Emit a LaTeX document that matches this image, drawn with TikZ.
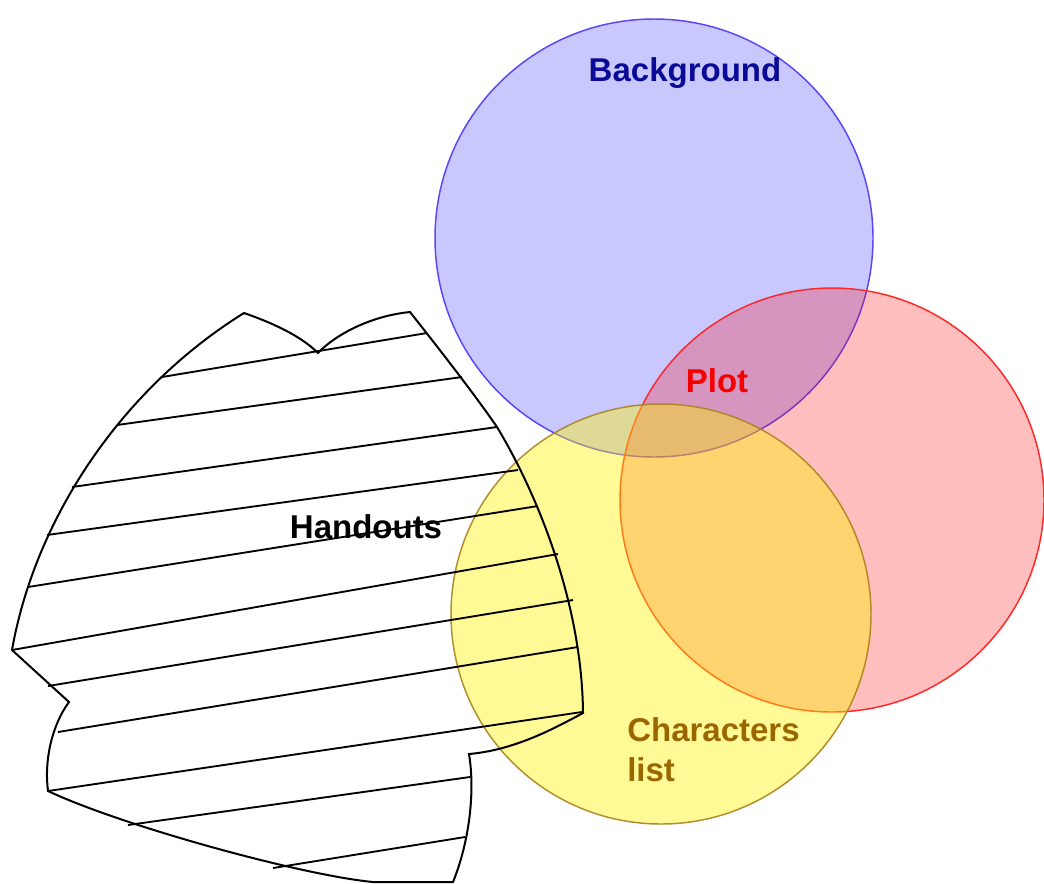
\documentclass[tikz,border=0pt]{standalone}
\usepackage{fontspec}
\setmainfont{Liberation Sans}
\definecolor{bgedge}{RGB}{90,70,250}
\definecolor{plotedge}{RGB}{255,40,40}
\definecolor{charedge}{RGB}{170,130,30}
\definecolor{bgtext}{RGB}{10,10,150}
\definecolor{plottext}{RGB}{245,0,0}
\definecolor{chartext}{RGB}{153,102,0}
\tikzset{
  setcircle/.style={circle, inner sep=0pt, line width=1.1pt},
  lbl/.style={font=\fontsize{24.75}{30}\selectfont\bfseries, inner sep=0pt},
  hatch/.style={line width=1.4pt, black},
}
\begin{document}
\begin{tikzpicture}[x=0.75pt,y=-0.75pt]
\useasboundingbox (0,0) rectangle (1044,883);
\fill[white] (0,0) rectangle (1044,883);
% sets
\node[setcircle, minimum size=328.5pt, fill=blue, fill opacity=0.215, draw=bgedge] (background) at (654,238) {};
\node[setcircle, minimum size=318pt, fill=red, fill opacity=0.255, draw=plotedge] (plot) at (832,500) {};
\node[setcircle, minimum size=315pt, fill=yellow, fill opacity=0.41, draw=charedge, draw opacity=0.9] (characters) at (661,614) {};
% handouts shape
\draw[line width=1.5pt, line join=miter]
  (244,313) .. controls (270,322) and (300,335) .. (318,353)
  .. controls (335,335) and (370,316) .. (410,312)
  .. controls (440,350) and (475,395) .. (497,427)
  .. controls (535,490) and (582,600) .. (583,713)
  .. controls (555,728) and (515,750) .. (469,754)
  .. controls (475,790) and (470,840) .. (453,882)
  -- (373,882)
  .. controls (300,875) and (120,825) .. (48,791)
  .. controls (44,760) and (52,725) .. (69,702)
  -- (12,650)
  .. controls (35,520) and (120,390) .. (244,313) -- cycle;
% hatch lines
\draw[hatch] (162,377) -- (427,333);
\draw[hatch] (117,425) -- (462,377);
\draw[hatch] (72,487) -- (497,427);
\draw[hatch] (47,535) -- (518,470);
\draw[hatch] (28,587) -- (538,506);
\draw[hatch] (12,650) -- (558,554);
\draw[hatch] (48,686) -- (573,600);
\draw[hatch] (58,732) -- (578,647);
\draw[hatch] (48,791) -- (582,712);
\draw[hatch] (128,825) -- (470,777);
\draw[hatch] (273,868) -- (465,837);
% labels
\node[lbl, text=bgtext] (bglabel) at (685,73) {Background};
\node[lbl, text=plottext] (plotlabel) at (717,381) {Plot};
\node[lbl, text=chartext, align=left, anchor=west] (charlabel) at (627,750) {Characters\\list};
\node[lbl, text=black] (handoutslabel) at (366,527) {Handouts};
\end{tikzpicture}
\end{document}
